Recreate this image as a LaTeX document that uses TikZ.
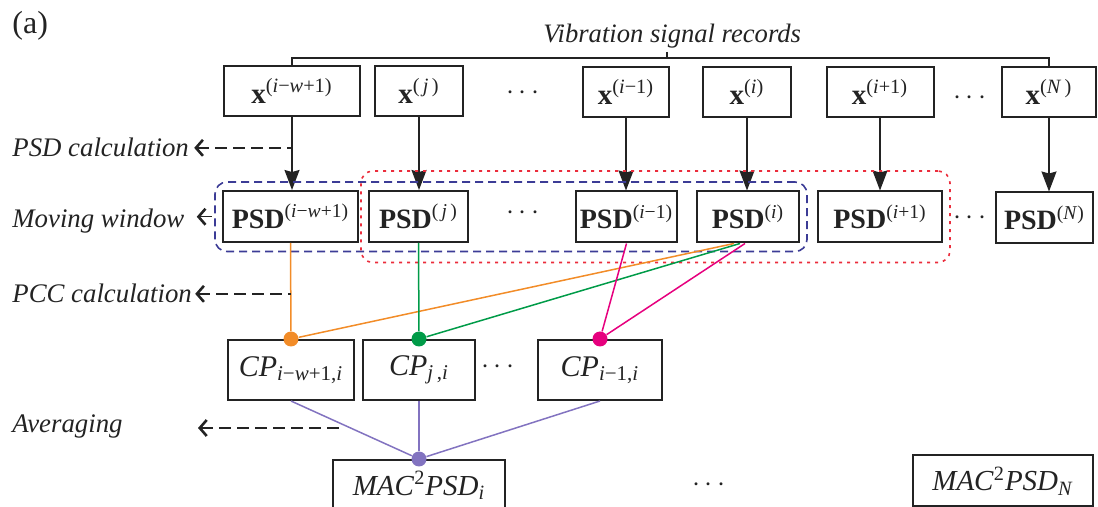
\documentclass[tikz,border=0pt]{standalone}
\usepackage{fontspec}
\setmainfont{Liberation Serif}
\usetikzlibrary{arrows.meta,fit}

\definecolor{orng}{RGB}{242,140,40}
\definecolor{grn}{RGB}{0,155,72}
\definecolor{mgnt}{RGB}{230,0,126}
\definecolor{purp}{RGB}{130,115,192}
\definecolor{winblue}{RGB}{60,60,150}
\definecolor{winred}{RGB}{235,45,60}
\definecolor{ink}{RGB}{35,35,35}

\newcommand{\vi}[1]{\textit{#1}}
\newcommand{\fs}[1]{\fontsize{#1}{#1}\selectfont}

\begin{document}
\begin{tikzpicture}[x=0.5pt, y=-0.5pt, >={Stealth[length=10pt,width=7.5pt,inset=1pt]},
  box/.style={draw=ink, line width=1pt, inner sep=0pt, minimum height=25pt, text=ink},
  xbox/.style={box, font=\fs{14.5}},
  psdbox/.style={box, font=\fs{14}, minimum height=25.5pt},
  cpbox/.style={box, font=\fs{15}, minimum height=30pt},
  macbox/.style={box, font=\fs{14.5}, minimum height=25.5pt},
  lab/.style={anchor=base west, inner sep=0pt, font=\fs{13.4}\itshape, text=ink},
  hint/.style={draw=ink, line width=0.7pt, dash pattern=on 6pt off 3pt, {Straight Barb[length=3.5pt,width=8pt,line width=1.3pt]}-},
  dots/.style={font=\fs{15}, text=ink},
  dot/.style={circle, inner sep=0pt, minimum size=7.5pt},
  cline/.style={line width=0.75pt}]
\useasboundingbox (0,0) rectangle (1098,507);

\node[anchor=base west, inner sep=0pt, font=\fs{16}, text=ink] (tag) at (12,34) {(a)};

% vibration records
\node[xbox, minimum width=68pt] (xa) at (292,91) {\textbf{x}\textsuperscript{(\vi{i}−\vi{w}+1)}};
\node[xbox, minimum width=44pt] (xj) at (419,91) {\textbf{x}\textsuperscript{(\,\vi{j}\,)}};
\node[dots] (dx1) at (523,93) {$\cdots$};
\node[xbox, minimum width=43pt] (xim) at (626,92) {\textbf{x}\textsuperscript{(\vi{i}−1)}};
\node[xbox, minimum width=44pt] (xi) at (747,92) {\textbf{x}\textsuperscript{(\vi{i})}};
\node[xbox, minimum width=53.5pt] (xip) at (880,92) {\textbf{x}\textsuperscript{(\vi{i}+1)}};
\node[dots] (dx2) at (970,98) {$\cdots$};
\node[xbox, minimum width=47pt] (xN) at (1049,92) {\textbf{x}\textsuperscript{(\vi{N}\,)}};

\node[lab, font=\fs{13.3}\itshape] (vsr) at (543,43) {Vibration signal records};
\coordinate (vtick) at (667,52);
\draw[ink, line width=0.7pt] (xa.north) -- ++(0,-7) -| (xN.north);
\draw[ink, line width=0.7pt] (vtick) -- ++(0,7);

% PSD row
\node[psdbox, minimum width=67.5pt] (pa) at (290.5,216.5) {\textbf{PSD}\textsuperscript{(\vi{i}−\vi{w}+1)}};
\node[psdbox, minimum width=49.5pt] (pj) at (418.5,216.5) {\textbf{PSD}\textsuperscript{(\,\vi{j}\,)}};
\node[dots] (dp1) at (523,213) {$\cdots$};
\node[psdbox, minimum width=50.5pt] (pim) at (626.5,217) {\textbf{PSD}\textsuperscript{(\vi{i}−1)}};
\node[psdbox, minimum width=51pt] (pi) at (748,217) {\textbf{PSD}\textsuperscript{(\vi{i})}};
\node[psdbox, minimum width=62pt] (pip) at (880,217) {\textbf{PSD}\textsuperscript{(\vi{i}+1)}};
\node[dots] (dp2) at (970,218) {$\cdots$};
\node[psdbox, minimum width=48.5pt] (pN) at (1044.5,218) {\textbf{PSD}\textsuperscript{(\vi{N})}};

\foreach \a/\b in {xa/pa, xj/pj, xim/pim, xi/pi, xip/pip, xN/pN}
  \draw[->, ink, line width=0.75pt] (\a.south) -- (\a.south |- \b.north);

% windows
\node[draw=winblue, line width=0.8pt, dash pattern=on 4pt off 2.5pt, rounded corners=6pt,
  inner xsep=3.5pt, inner ysep=4pt, fit=(pa)(pi)] (win) {};
\node[draw=winred, line width=0.8pt, dash pattern=on 1.5pt off 2.5pt, rounded corners=6pt,
  inner xsep=3.5pt, inner ysep=9.5pt, fit=(pj)(pip)] (redwin) {};

% CP row
\node[cpbox, minimum width=63pt] (cpa) at (291,370) {\vi{CP}\textsubscript{\vi{i}−\vi{w}+1,\vi{i}}};
\node[cpbox, minimum width=56pt] (cpj) at (419,370) {\vi{CP}\textsubscript{\vi{j}\,,\vi{i}}};
\node[dots] (dc1) at (498,367) {$\cdots$};
\node[cpbox, minimum width=62pt] (cpim) at (600,370) {\vi{CP}\textsubscript{\vi{i}−1,\vi{i}}};

% MAC row
\node[macbox, minimum width=86pt] (mi) at (419,485.5) {\vi{MAC}\textsuperscript{2}\vi{PSD}\textsubscript{\vi{i}}};
\node[dots] (dm1) at (709,485) {$\cdots$};
\node[macbox, minimum width=90pt] (mN) at (1003,481) {\vi{MAC}\textsuperscript{2}\vi{PSD}\textsubscript{\vi{N}}};

% junction dots
\node[dot, fill=orng] (da) at (cpa.north) {};
\node[dot, fill=grn] (dj) at (cpj.north) {};
\node[dot, fill=mgnt] (dim) at (cpim.north) {};
\node[dot, fill=purp] (dm) at (mi.north) {};

% PCC links
\draw[cline, orng] (pa.south) -- (da);
\draw[cline, orng] ([xshift=-7pt]pi.south) -- (da);
\draw[cline, grn] (pj.south) -- (dj);
\draw[cline, grn] ([xshift=-4pt]pi.south) -- (dj);
\draw[cline, mgnt] (pim.south) -- (dim);
\draw[cline, mgnt] ([xshift=-1.5pt]pi.south) -- (dim);

% averaging links
\draw[cline, purp] (cpa.south) -- coordinate[pos=0.42] (avgend) (dm);
\draw[cline, purp] (cpj.south) -- (dm);
\draw[cline, purp] (cpim.south) -- (dm);

% step labels
\node[lab] (lpsd) at (12,157) {PSD calculation};
\node[lab] (lmw) at (12,228) {Moving window};
\node[lab] (lpcc) at (12,303) {PCC calculation};
\node[lab] (lavg) at (12,433) {Averaging};
\coordinate (avgtip) at (198,428);

\draw[hint] ([xshift=2.5pt]lpsd.east) -- (lpsd.east -| xa.south);
\draw[hint] ([xshift=6pt]lmw.east |- win.west) -- (win.west);
\draw[hint] ([xshift=1.5pt]lpcc.east) -- (lpcc.east -| pa.south);
\draw[hint] (avgtip) -- (avgtip -| avgend);

\end{tikzpicture}
\end{document}
